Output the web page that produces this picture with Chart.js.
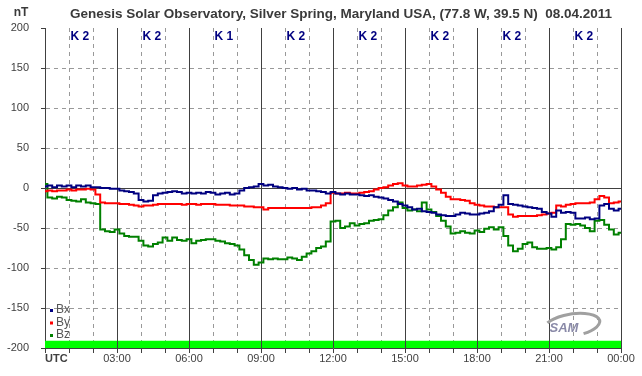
<!DOCTYPE html>
<html>
<head>
<meta charset="utf-8">
<title>Genesis Solar Observatory - Magnetometer 08.04.2011</title>
<script src="https://cdn.jsdelivr.net/npm/chart.js"></script>
<style>
  html, body { margin: 0; padding: 0; background: #fff; }
  #wrap { width: 642px; height: 376px; }
</style>
</head>
<body>
<div id="wrap"><canvas id="chart" width="642" height="376"></canvas></div>
<script>
// sample times in hours UTC (every 12 minutes)
var hours = [];
for (var i = 0; i <= 120; i++) hours.push(i / 5);

// field components in nT
var bx = [2, 3, 1, 3, 2, 3, 1, 3, 2, 3, 1, 1, 0, 0, -1, -1, -3, -4, -5, -7,
  -15, -17, -16, -9, -7, -6, -5, -4, -5, -7, -6, -7, -6, -7, -5, -6, -8, -7, -6, -8,
  -7, -3, 0, 1, 2, 5, 3, 4, 2, 1, 0, -1, 0, -2, -1, -3, -3, -4, -5, -7,
  -5, -7, -8, -7, -8, -8, -9, -10, -9, -11, -12, -13, -15, -17, -20, -22, -24, -27, -26, -29,
  -30, -31, -33, -34, -35, -35, -33, -31, -32, -33, -33, -32, -31, -29, -24, -21, -9, -20, -21, -22,
  -23, -24, -25, -26, -30, -32, -36, -28, -31, -30, -31, -38, -38, -37, -39, -38, -22, -20, -26, -28,
  -26];
var by = [-4, -3, -4, -3, -3, -2, -3, -2, -2, -1, -2, -8, -18, -19, -19, -19, -20, -20, -21, -22,
  -23, -22, -22, -21, -20, -20, -20, -20, -20, -21, -20, -20, -21, -20, -20, -20, -21, -21, -21, -22,
  -22, -22, -23, -23, -24, -24, -27, -25, -25, -25, -25, -25, -25, -25, -25, -25, -24, -24, -22, -19,
  -6, -7, -7, -6, -7, -7, -6, -5, -4, -2, 0, 1, 3, 5, 6, 3, 2, 2, 3, 4,
  5, 2, -2, -6, -11, -14, -14, -15, -16, -19, -21, -22, -23, -23, -24, -24, -24, -33, -36, -35,
  -35, -35, -35, -34, -33, -32, -31, -22, -23, -21, -20, -19, -19, -19, -18, -14, -10, -12, -19, -18,
  -17];
var bz = [5, -12, -13, -11, -12, -15, -16, -17, -14, -18, -19, -20, -52, -54, -55, -52, -57, -60, -61, -61,
  -66, -72, -73, -70, -68, -62, -66, -62, -65, -66, -64, -69, -66, -65, -64, -64, -66, -67, -69, -70,
  -72, -77, -84, -90, -96, -93, -88, -89, -88, -89, -89, -87, -88, -90, -86, -82, -79, -75, -73, -67,
  -42, -41, -50, -48, -44, -47, -45, -44, -41, -40, -39, -34, -28, -24, -18, -25, -28, -27, -29, -18,
  -27, -30, -35, -41, -48, -57, -56, -54, -56, -57, -53, -55, -51, -49, -52, -49, -60, -72, -79, -76,
  -70, -68, -74, -76, -76, -75, -77, -74, -64, -45, -46, -45, -47, -50, -54, -41, -40, -46, -52, -58,
  -56];

// green status band along the bottom
var bandHours = [0, 24];
var bandTop = [-191, -191];

var kIndex = [2, 2, 1, 2, 2, 2, 2, 2];
var timeLabels = ['UTC', '03:00', '06:00', '09:00', '12:00', '15:00', '18:00', '21:00', '00:00'];
var titleText = 'Genesis Solar Observatory, Silver Spring, Maryland USA, (77.8 W, 39.5 N)  08.04.2011';

var FONT = '"Liberation Sans", Arial, sans-serif';
var DARK = '#404040';
var DASH = '#999999';

function pts(xs, ys) {
  return xs.map(function (x, i) { return { x: x, y: ys[i] }; });
}

var decor = {
  id: 'decor',
  afterDatasetsDraw: function (chart) {
    // solid 3-hour lines stay visible across the green band
    var ctx = chart.ctx, xs = chart.scales.x, ys = chart.scales.y;
    ctx.save();
    ctx.strokeStyle = DARK;
    ctx.lineWidth = 1;
    for (var h = 3; h < 24; h += 3) {
      var px = Math.round(xs.getPixelForValue(h)) + 0.5;
      ctx.beginPath();
      ctx.moveTo(px, ys.getPixelForValue(bandTop[0]));
      ctx.lineTo(px, ys.getPixelForValue(-200));
      ctx.stroke();
    }
    ctx.restore();
  },
  afterDraw: function (chart) {
    var ctx = chart.ctx, xs = chart.scales.x, area = chart.chartArea;
    ctx.save();
    ctx.textBaseline = 'middle';

    ctx.fillStyle = '#3a3a3a';
    ctx.font = 'bold 13.5px ' + FONT;
    ctx.textAlign = 'center';
    ctx.fillText(titleText, 341, 14);
    ctx.font = 'bold 12px ' + FONT;
    ctx.fillText('nT', 21, 13);

    // K index per 3-hour block
    ctx.fillStyle = '#000080';
    ctx.font = 'bold 12px ' + FONT;
    kIndex.forEach(function (k, i) {
      ctx.fillText('K ' + k, xs.getPixelForValue(i * 3 + 1.45), 37);
    });

    // bold UTC at the origin
    ctx.fillStyle = DARK;
    ctx.textAlign = 'left';
    ctx.font = 'bold 11px ' + FONT;
    ctx.fillText(timeLabels[0], area.left, 359);

    // legend in the lower left corner
    ctx.font = '12px ' + FONT;
    chart.data.datasets.slice(0, 3).forEach(function (ds, i) {
      var y = 310 + i * 12.5;
      ctx.fillStyle = ds.borderColor;
      ctx.fillRect(area.left + 5, y - 1, 3, 3);
      ctx.fillStyle = '#555';
      ctx.fillText(ds.label, area.left + 11, y);
    });

    // SAM mark
    ctx.strokeStyle = '#a0a0a0';
    ctx.lineWidth = 3;
    ctx.beginPath();
    ctx.ellipse(572, 325, 28, 11, -0.15, -2.6, 1.2);
    ctx.stroke();
    ctx.font = 'italic bold 13px ' + FONT;
    ctx.fillStyle = '#8a8aa8';
    ctx.textAlign = 'center';
    ctx.fillText('SAM', 564, 328);
    ctx.restore();
  }
};

function series(label, ys, color) {
  return {
    label: label,
    data: pts(hours, ys),
    borderColor: color,
    borderWidth: 2,
    pointRadius: 0,
    stepped: 'middle'
  };
}

var chart = new Chart(document.getElementById('chart'), {
  type: 'line',
  data: {
    datasets: [
      series('Bx', bx, '#000080'),
      series('By', by, '#ff0000'),
      series('Bz', bz, '#008000'),
      {
        label: 'band',
        data: pts(bandHours, bandTop),
        borderWidth: 0,
        borderColor: 'rgba(0,0,0,0)',
        backgroundColor: '#00ff00',
        fill: 'start',
        pointRadius: 0
      }
    ]
  },
  options: {
    responsive: false,
    animation: false,
    devicePixelRatio: 1,
    layout: { padding: { top: 28, right: 21, left: 0, bottom: 0 } },
    plugins: {
      legend: { display: false },
      title: { display: false },
      tooltip: { enabled: false }
    },
    scales: {
      x: {
        type: 'linear',
        min: 0,
        max: 24,
        afterFit: function (s) { s.height = 28; },
        ticks: {
          stepSize: 1,
          autoSkip: false,
          maxRotation: 0,
          padding: -1,
          color: DARK,
          font: { family: FONT, size: 11 },
          callback: function (v) {
            if (v % 3 !== 0 || v === 0) return '';
            return timeLabels[v / 3];
          }
        },
        grid: {
          color: function (c) {
            if (!c.tick) return DARK;
            return c.tick.value % 3 === 0 ? DARK : DASH;
          },
          tickColor: DARK,
          tickLength: 5,
          tickBorderDash: []
        },
        border: {
          color: DARK,
          dash: function (c) {
            if (!c.tick) return [];
            return c.tick.value % 3 === 0 ? [] : [4, 4];
          }
        }
      },
      y: {
        min: -200,
        max: 200,
        afterFit: function (s) { s.width = 45; },
        ticks: {
          stepSize: 50,
          padding: 12,
          color: DARK,
          font: { family: FONT, size: 11 }
        },
        grid: {
          color: function (c) {
            if (!c.tick) return DARK;
            if (c.tick.value === 200) return 'rgba(0,0,0,0)';
            return c.tick.value === 0 ? DARK : DASH;
          },
          tickColor: DARK,
          tickLength: 4,
          tickBorderDash: []
        },
        border: {
          color: DARK,
          dash: function (c) {
            if (!c.tick) return [];
            return c.tick.value === 0 ? [] : [4, 4];
          }
        }
      }
    }
  },
  plugins: [decor]
});
</script>
</body>
</html>
